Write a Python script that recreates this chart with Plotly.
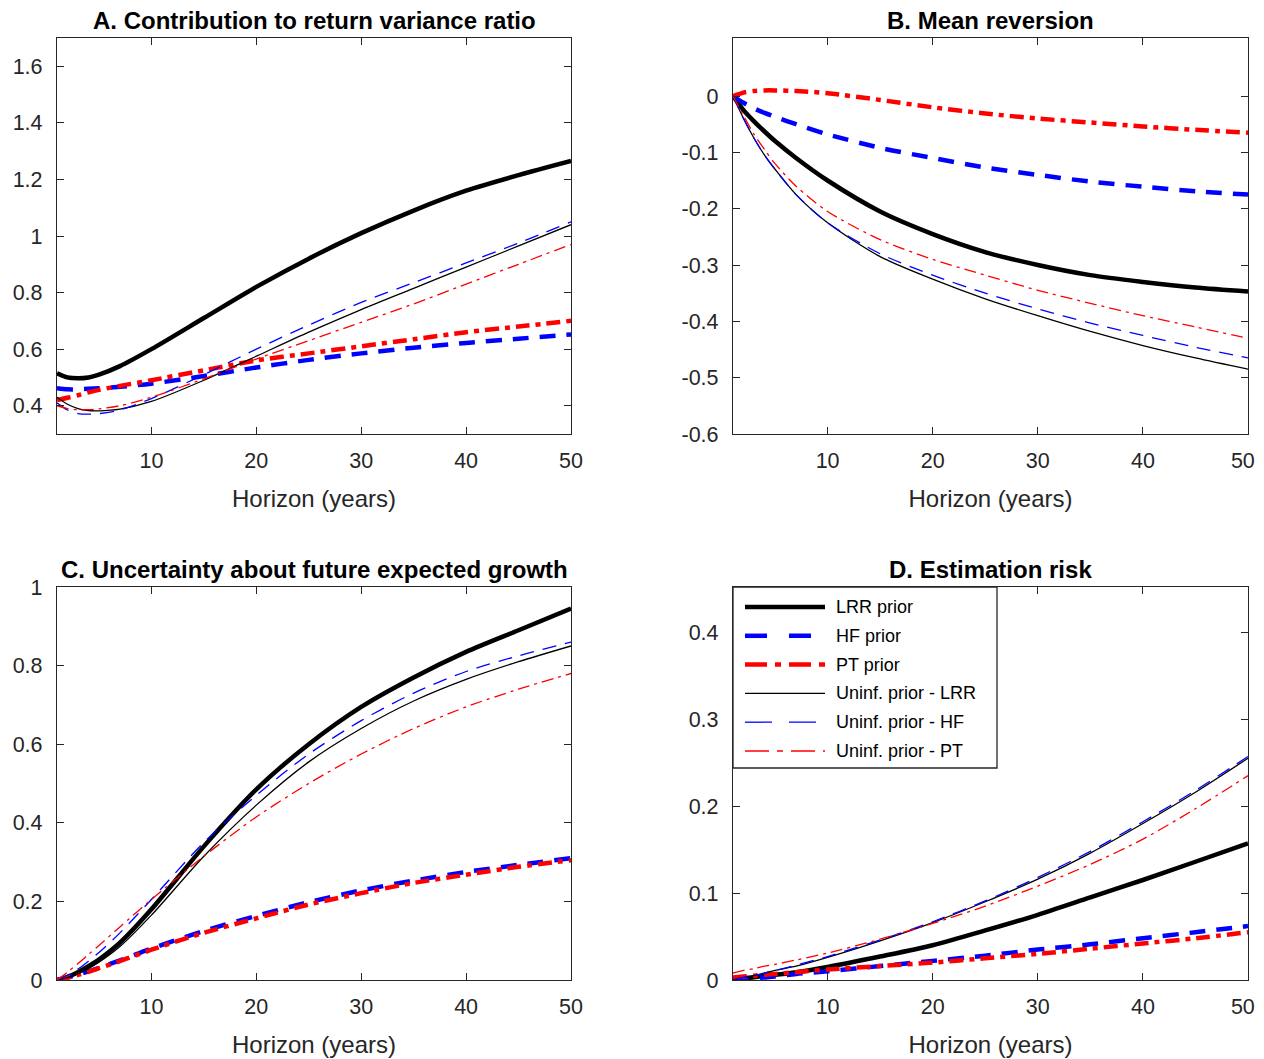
import plotly.graph_objects as go

# Horizons (years)
h = [1, 2, 3, 4, 5, 7, 10, 15, 20, 25, 30, 35, 40, 45, 50]

# Panel A: Contribution to return variance ratio
A_lrr   = [0.515, 0.50, 0.497, 0.50, 0.51, 0.54, 0.60, 0.71, 0.82, 0.92, 1.01, 1.09, 1.16, 1.215, 1.265]
A_hf    = [0.462, 0.458, 0.458, 0.46, 0.462, 0.467, 0.478, 0.505, 0.535, 0.562, 0.585, 0.605, 0.622, 0.637, 0.652]
A_pt    = [0.42, 0.428, 0.437, 0.447, 0.456, 0.47, 0.49, 0.525, 0.56, 0.585, 0.61, 0.635, 0.66, 0.68, 0.70]
A_ulrr  = [0.43, 0.405, 0.39, 0.383, 0.382, 0.388, 0.415, 0.49, 0.575, 0.66, 0.74, 0.815, 0.89, 0.965, 1.04]
A_uhf   = [0.41, 0.385, 0.372, 0.37, 0.372, 0.385, 0.425, 0.51, 0.60, 0.685, 0.765, 0.835, 0.905, 0.975, 1.05]
A_upt   = [0.40, 0.39, 0.386, 0.386, 0.389, 0.40, 0.43, 0.495, 0.565, 0.63, 0.695, 0.76, 0.83, 0.90, 0.97]

# Panel B: Mean reversion
B_lrr   = [0.0, -0.025, -0.045, -0.063, -0.08, -0.11, -0.15, -0.205, -0.245, -0.277, -0.30, -0.318, -0.33, -0.34, -0.347]
B_hf    = [0.0, -0.012, -0.022, -0.03, -0.037, -0.05, -0.068, -0.092, -0.11, -0.127, -0.14, -0.152, -0.161, -0.169, -0.175]
B_pt    = [0.0, 0.006, 0.009, 0.01, 0.01, 0.009, 0.005, -0.007, -0.02, -0.031, -0.04, -0.047, -0.054, -0.06, -0.065]
B_ulrr  = [0.0, -0.04, -0.075, -0.105, -0.13, -0.175, -0.225, -0.285, -0.325, -0.36, -0.39, -0.418, -0.443, -0.465, -0.485]
B_uhf   = [0.0, -0.04, -0.075, -0.105, -0.13, -0.175, -0.225, -0.28, -0.318, -0.35, -0.378, -0.403, -0.425, -0.446, -0.465]
B_upt   = [0.0, -0.035, -0.068, -0.095, -0.12, -0.16, -0.205, -0.255, -0.29, -0.318, -0.345, -0.368, -0.39, -0.41, -0.43]

# Panel C: Uncertainty about future expected growth
C_lrr   = [0.0, 0.008, 0.02, 0.035, 0.052, 0.095, 0.18, 0.34, 0.485, 0.60, 0.695, 0.77, 0.835, 0.89, 0.945]
C_hf    = [0.0, 0.006, 0.014, 0.022, 0.031, 0.05, 0.08, 0.125, 0.163, 0.198, 0.228, 0.253, 0.275, 0.293, 0.31]
C_pt    = [0.0, 0.006, 0.013, 0.021, 0.03, 0.048, 0.077, 0.12, 0.157, 0.192, 0.221, 0.247, 0.268, 0.288, 0.305]
C_ulrr  = [0.0, 0.006, 0.016, 0.029, 0.045, 0.085, 0.165, 0.315, 0.445, 0.555, 0.64, 0.71, 0.765, 0.81, 0.85]
C_uhf   = [0.0, 0.012, 0.028, 0.048, 0.07, 0.12, 0.205, 0.35, 0.47, 0.575, 0.66, 0.73, 0.785, 0.825, 0.86]
C_upt   = [0.0, 0.02, 0.042, 0.065, 0.088, 0.135, 0.205, 0.315, 0.415, 0.50, 0.575, 0.64, 0.695, 0.74, 0.78]

# Panel D: Estimation risk
D_lrr   = [0.0, 0.002, 0.003, 0.005, 0.006, 0.009, 0.015, 0.027, 0.04, 0.057, 0.075, 0.095, 0.115, 0.136, 0.157]
D_hf    = [0.0, 0.001, 0.002, 0.003, 0.004, 0.007, 0.010, 0.016, 0.022, 0.028, 0.035, 0.041, 0.048, 0.055, 0.062]
D_pt    = [0.003, 0.004, 0.005, 0.006, 0.007, 0.009, 0.012, 0.016, 0.020, 0.025, 0.030, 0.036, 0.042, 0.048, 0.055]
D_ulrr  = [0.0, 0.003, 0.005, 0.008, 0.011, 0.016, 0.026, 0.045, 0.066, 0.09, 0.116, 0.146, 0.18, 0.216, 0.255]
D_uhf   = [0.0, 0.003, 0.005, 0.008, 0.011, 0.017, 0.027, 0.046, 0.067, 0.091, 0.118, 0.148, 0.182, 0.218, 0.257]
D_upt   = [0.008, 0.011, 0.013, 0.016, 0.018, 0.023, 0.031, 0.047, 0.065, 0.085, 0.108, 0.133, 0.162, 0.197, 0.235]

names = ["LRR prior", "HF prior", "PT prior", "Uninf. prior - LRR", "Uninf. prior - HF", "Uninf. prior - PT"]
styles = [
    dict(color="#000000", width=4.5, dash="solid"),
    dict(color="#0000FF", width=4.5, dash="16px,11px"),
    dict(color="#FF0000", width=4.5, dash="14px,6px,5px,6px"),
    dict(color="#000000", width=1.3, dash="solid"),
    dict(color="#0000FF", width=1.3, dash="14px,9px"),
    dict(color="#FF0000", width=1.3, dash="12px,5px,3px,5px"),
]
legend_dash = ["solid", "22px,22px", "22px,8px,6px,8px", "solid", "27px,17px", "24px,8px,6px,8px"]
panels = [
    [A_lrr, A_hf, A_pt, A_ulrr, A_uhf, A_upt],
    [B_lrr, B_hf, B_pt, B_ulrr, B_uhf, B_upt],
    [C_lrr, C_hf, C_pt, C_ulrr, C_uhf, C_upt],
    [D_lrr, D_hf, D_pt, D_ulrr, D_uhf, D_upt],
]
titles = ["A. Contribution to return variance ratio", "B. Mean reversion",
          "C. Uncertainty about future expected growth", "D. Estimation risk"]

# The page body has an 8px margin: offset the figure so it lines up with the window
OFF = 8
W, H = 1264 - OFF, 1059 - OFF


def px(x):
    return (x - OFF) / W


def py(y):
    return 1 - (y - OFF) / H


xdom = [[px(57), px(571)], [px(733), px(1248)]]
ydom = [[py(434), py(38)], [py(980), py(587)]]
panel_pos = [(0, 0), (1, 0), (0, 1), (1, 1)]  # (col, row)

yranges = [[0.3, 1.7], [-0.6, 0.103], [0, 1], [0, 0.452]]
ytickvals = [
    [0.4, 0.6, 0.8, 1.0, 1.2, 1.4, 1.6],
    [-0.6, -0.5, -0.4, -0.3, -0.2, -0.1, 0],
    [0, 0.2, 0.4, 0.6, 0.8, 1],
    [0, 0.1, 0.2, 0.3, 0.4],
]
yticktext = [
    ["0.4", "0.6", "0.8", "1", "1.2", "1.4", "1.6"],
    ["-0.6", "-0.5", "-0.4", "-0.3", "-0.2", "-0.1", "0"],
    ["0", "0.2", "0.4", "0.6", "0.8", "1"],
    ["0", "0.1", "0.2", "0.3", "0.4"],
]
xtickvals = [10, 20, 30, 40, 50]
xticktext_left = ["10", "20", "30", "40", "50"]
# right-hand panels: nudge the last label inward so it stays inside the window
xticktext_right = ["10", "20", "30", "40", "50\u00a0\u2009"]

fig = go.Figure()
axcolor = "#262626"
font_family = "Liberation Sans, Arial, sans-serif"

for p in range(4):
    col, row = panel_pos[p]
    sfx = "" if p == 0 else str(p + 1)
    for i in range(6):
        fig.add_trace(go.Scatter(
            x=h, y=panels[p][i], mode="lines", name=names[i],
            line=dict(shape="spline", smoothing=0.8, **styles[i]),
            xaxis="x" + sfx, yaxis="y" + sfx,
            showlegend=False,
        ))
    common = dict(showline=True, linecolor=axcolor, linewidth=1.3, mirror="ticks",
                  ticks="inside", ticklen=7, tickcolor=axcolor, tickwidth=1,
                  showgrid=False, zeroline=False, automargin=False,
                  ticklabeloverflow="allow",
                  tickfont=dict(size=21.5, color="#262626", family=font_family))
    fig.layout["xaxis" + sfx] = dict(
        domain=xdom[col], range=[1, 50], tickvals=xtickvals,
        ticktext=xticktext_left if col == 0 else xticktext_right,
        anchor="y" + sfx, ticklabelstandoff=7,
        title=dict(text="Horizon (years)", font=dict(size=24, color="#262626", family=font_family), standoff=18),
        **common)
    fig.layout["yaxis" + sfx] = dict(
        domain=ydom[row], range=yranges[p], tickvals=ytickvals[p], ticktext=yticktext[p],
        anchor="x" + sfx, ticklabelstandoff=9, **common)
    fig.add_annotation(
        text="<b>" + titles[p] + "</b>", xref="paper", yref="paper",
        x=(xdom[col][0] + xdom[col][1]) / 2, xanchor="center",
        y=ydom[row][1], yanchor="bottom", yshift=2,
        showarrow=False, font=dict(size=24, color="#000000", family=font_family))

# Legend box in panel D (pixel layout converted to paper coordinates)
lx0, lx1, ly0, ly1 = 733, 997, 587, 768
fig.add_shape(type="rect", xref="paper", yref="paper",
              x0=px(lx0), x1=px(lx1), y0=py(ly1), y1=py(ly0),
              line=dict(color=axcolor, width=1.3), fillcolor="white", layer="above")
for i in range(6):
    yy = py(607 + 28.8 * i)
    fig.add_shape(type="line", xref="paper", yref="paper",
                  x0=px(745), x1=px(825), y0=yy, y1=yy, layer="above",
                  line=dict(color=styles[i]["color"], width=styles[i]["width"], dash=legend_dash[i]))
    fig.add_annotation(text=names[i], xref="paper", yref="paper", x=px(834), y=yy,
                       xanchor="left", yanchor="middle", showarrow=False,
                       font=dict(size=18, color="#000000", family=font_family))

fig.update_layout(
    width=W, height=H, margin=dict(l=0, r=0, t=0, b=0, autoexpand=False),
    paper_bgcolor="white", plot_bgcolor="white",
    font=dict(family=font_family),
    showlegend=False,
)

fig.write_html("out.html")
